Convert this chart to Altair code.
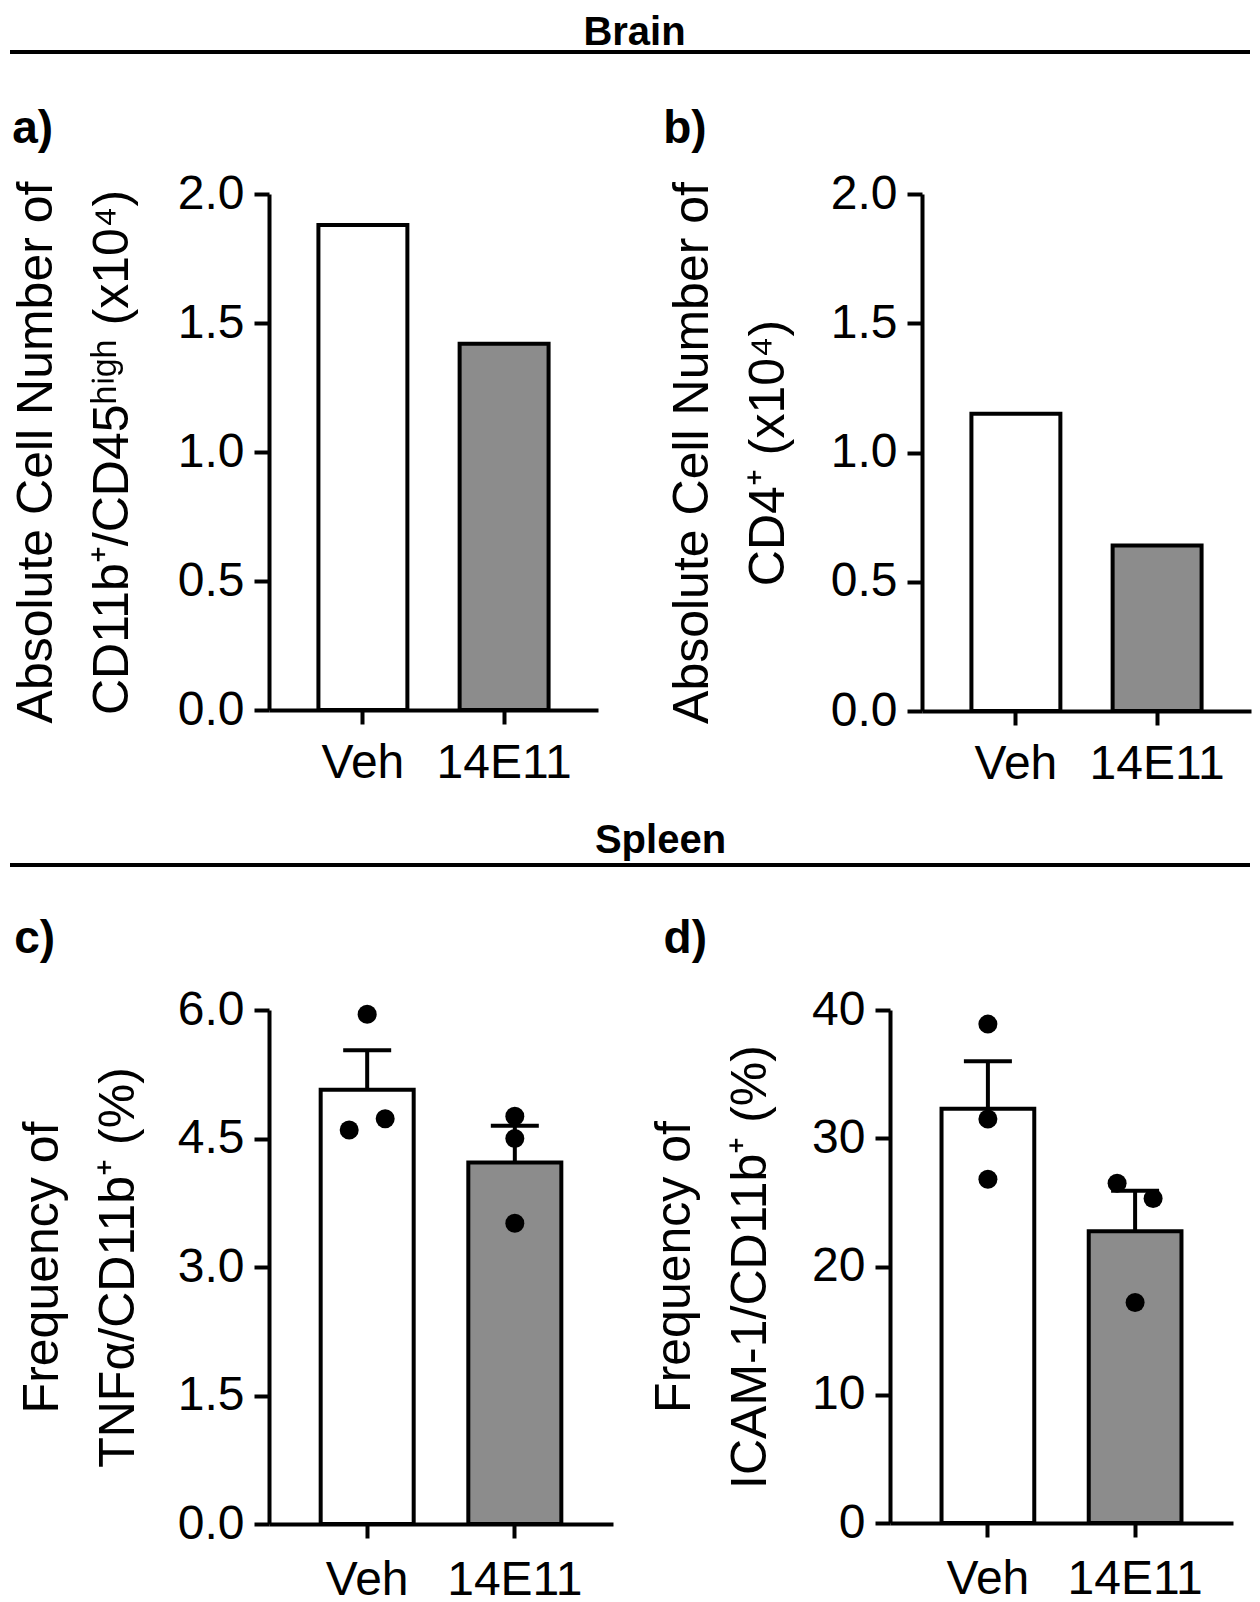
import altair as alt
import pandas as pd

FONT = "Liberation Sans"

groups = ["Veh", "14E11"]
fills = ["#ffffff", "#8c8c8c"]

# Brain
a_means = [1.88, 1.42]
b_means = [1.15, 0.64]

# Spleen
c_means = [5.07, 4.22]
c_sem = [0.46, 0.43]
c_pts_veh = [5.95, 4.60, 4.73]
c_pts_14e11 = [4.76, 4.50, 3.51]
c_slot_veh = [0, -1, 1]
c_slot_14e11 = [0, 0, 0]

d_means = [32.3, 22.75]
d_sem = [3.7, 3.15]
d_pts_veh = [38.9, 31.5, 26.8]
d_pts_14e11 = [26.5, 25.3, 17.2]
d_slot_veh = [0, 0, 0]
d_slot_14e11 = [-1, 1, 0]

a_ticks = [0.0, 0.5, 1.0, 1.5, 2.0]
c_ticks = [0.0, 1.5, 3.0, 4.5, 6.0]
d_ticks = [0, 10, 20, 30, 40]

a_title = ["Absolute Cell Number of", "CD11b\u207a/CD45\u02b0\u2071\u1d4d\u02b0 (x10\u2074)"]
b_title = ["Absolute Cell Number of", "CD4\u207a (x10\u2074)"]
c_title = ["Frequency of", "TNF\u03b1/CD11b\u207a (%)"]
d_title = ["Frequency of", "ICAM-1/CD11b\u207a (%)"]

P_IN, P_OUT = 0.37, 0.35
DOT_SHIFT = 18


def panel(letter, means, ytitle, ydomain, yticks, fmt, width, height,
          t_dy, t_dx, t_pad, lab_pad, sem=None, pts=None, slots=None):
    xaxis = alt.Axis(title=None, labelAngle=0, domainWidth=4, tickWidth=4, tickSize=14,
                     labelFontSize=48, labelPadding=lab_pad, labelFont=FONT,
                     domainColor="black", tickColor="black", labelColor="black")
    yaxis = alt.Axis(title=ytitle, values=yticks, format=fmt, grid=False,
                     domainWidth=4, tickWidth=4, tickSize=15, labelFontSize=48,
                     labelPadding=10, labelFont=FONT, titleFont=FONT,
                     titleFontSize=50, titleFontWeight="normal", titleLineHeight=76,
                     titlePadding=t_pad, domainColor="black", tickColor="black",
                     labelColor="black", titleColor="black")
    xs = alt.Scale(domain=groups, paddingInner=P_IN, paddingOuter=P_OUT)
    ys = alt.Scale(domain=ydomain, nice=False, zero=True)

    def X():
        return alt.X("group:N", sort=groups, scale=xs, axis=xaxis)

    bar_df = pd.DataFrame({"group": groups, "mean": means})
    if sem is not None:
        bar_df["hi"] = [m + s for m, s in zip(means, sem)]
    bars = alt.Chart(bar_df).mark_bar(stroke="black", strokeWidth=4).encode(
        x=X(),
        y=alt.Y("mean:Q", scale=ys, axis=yaxis),
        fill=alt.Fill("group:N", scale=alt.Scale(domain=groups, range=fills), legend=None),
    )
    layers = [bars]
    if sem is not None:
        stem = alt.Chart(bar_df).mark_rule(color="black", strokeWidth=4).encode(
            x=X(), y=alt.Y("mean:Q", scale=ys, axis=yaxis), y2="hi:Q")
        cap = alt.Chart(bar_df).mark_tick(color="black", size=48, thickness=4, opacity=1).encode(
            x=X(), y=alt.Y("hi:Q", scale=ys, axis=yaxis))
        layers += [stem, cap]
    if pts is not None:
        rows = []
        for g, vals, sl in zip(groups, pts, slots):
            for v, s in zip(vals, sl):
                rows.append({"group": g, "value": v, "slot": s})
        pdf = pd.DataFrame(rows)
        step = width / (len(groups) - P_IN + 2 * P_OUT)
        half_bw = step * (1 - P_IN) / 2
        dots = alt.Chart(pdf).mark_circle(color="black", size=361, opacity=1).encode(
            x=X(),
            xOffset=alt.XOffset("slot:Q", scale=alt.Scale(
                domain=[-1, 1], range=[half_bw - DOT_SHIFT, half_bw + DOT_SHIFT])),
            y=alt.Y("value:Q", scale=ys, axis=yaxis),
        )
        layers.append(dots)
    ch = alt.layer(*layers)
    if pts is not None:
        ch = ch.resolve_scale(xOffset="independent")
    return ch.properties(
        width=width, height=height,
        title=alt.TitleParams(letter, anchor="start", fontSize=46, fontWeight="bold",
                              font=FONT, color="black", offset=0, dy=t_dy, dx=t_dx,
                              baseline="alphabetic"),
    )


def header(text, dx, dy, h):
    return alt.Chart(pd.DataFrame({"k": [0]})).mark_rule(color="black", strokeWidth=4).encode(
        x=alt.value(-259), x2=alt.value(981), y=alt.value(0)
    ).properties(
        width=700, height=h,
        title=alt.TitleParams(text, anchor="middle", fontSize=40, fontWeight="bold",
                              font=FONT, color="black", dx=dx, dy=dy, offset=0,
                              baseline="alphabetic"),
    )


pa = panel("a)", a_means, a_title, [0, 2], a_ticks, ".1f", 329, 516, 19, 1, 40, 15)
pb = panel("b)", b_means, b_title, [0, 2], a_ticks, ".1f", 329, 517, 19, -4, 37, 15)
pc = panel("c)", c_means, c_title, [0, 6], c_ticks, ".1f", 344, 514, 13, -3, 34, 18,
           sem=c_sem, pts=[c_pts_veh, c_pts_14e11], slots=[c_slot_veh, c_slot_14e11])
pd_ = panel("d)", d_means, d_title, [0, 40], d_ticks, "d", 343, 513, 13, 14, 36, 18,
            sem=d_sem, pts=[d_pts_veh, d_pts_14e11], slots=[d_slot_veh, d_slot_14e11])

row1 = alt.hconcat(pa, pb, spacing=65)
row2 = alt.hconcat(pc, pd_, spacing=36)

chart = alt.vconcat(
    header("Brain", 15.5, 35, 21),
    row1,
    header("Spleen", 41.5, 30, 18),
    row2,
    spacing=33,
).properties(
    padding={"left": 0, "top": 5, "right": 0, "bottom": 0},
    background="white",
).configure_view(stroke=None)

chart.save("out.html", embed_options={"renderer": "svg", "actions": False})
